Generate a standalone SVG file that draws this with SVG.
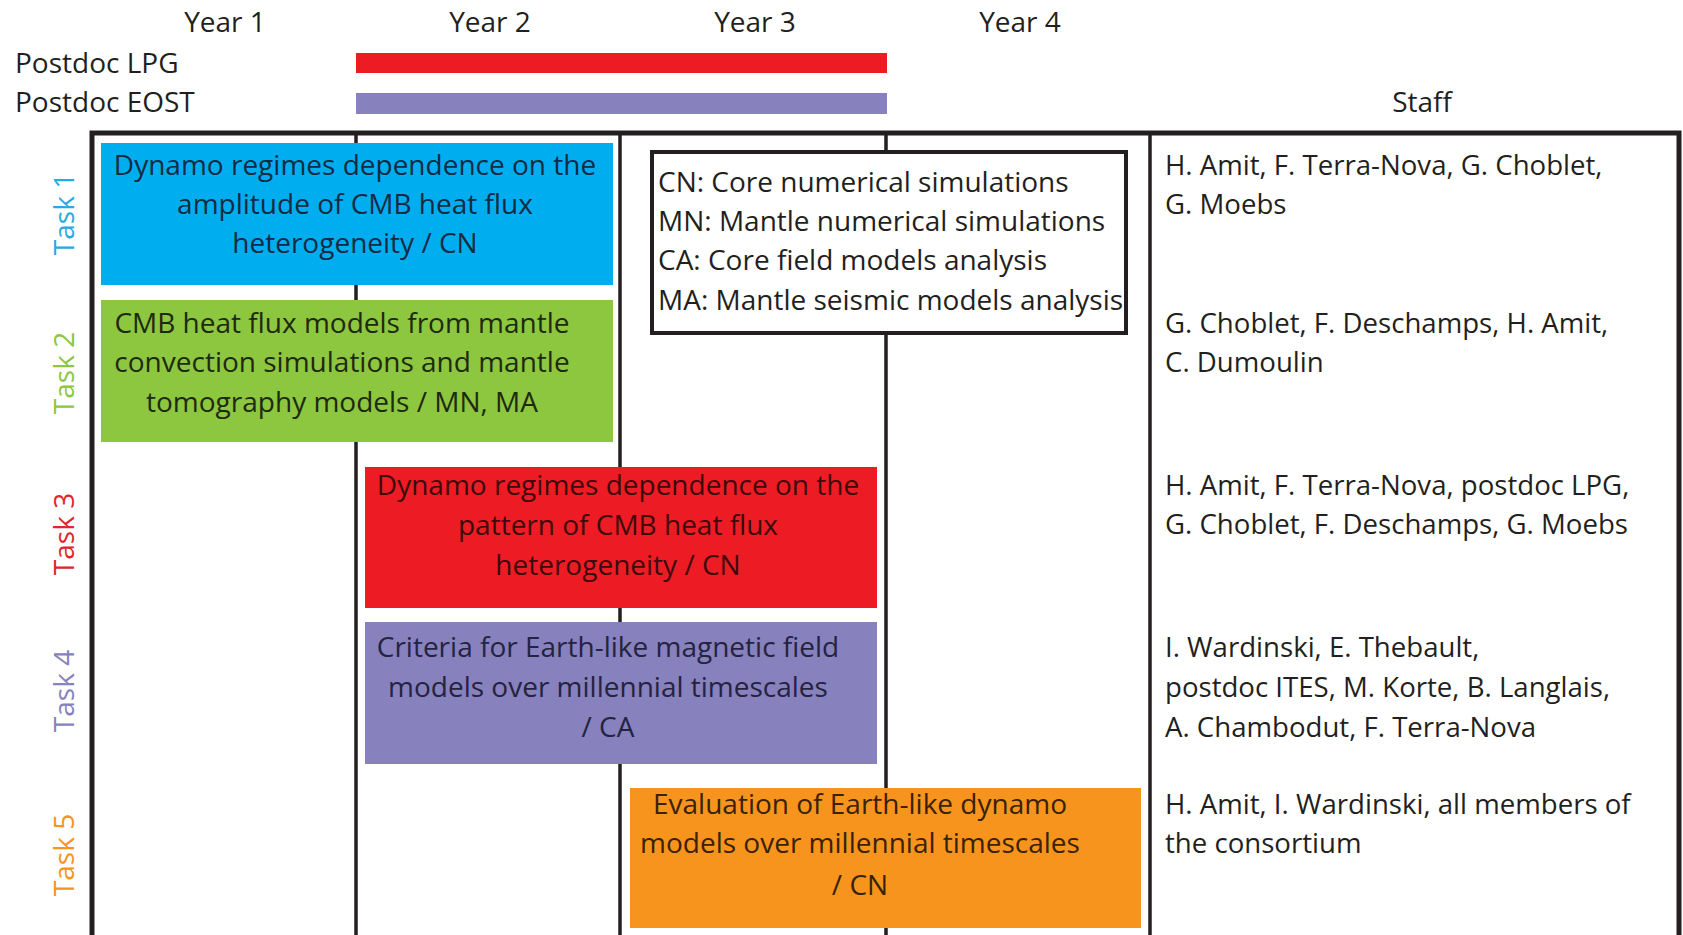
<svg xmlns="http://www.w3.org/2000/svg" width="1683" height="935" viewBox="0 0 1683 935">
<style>
text{font-family:"Open Sans","Noto Sans","Liberation Sans",sans-serif;font-size:28px;fill:#231f20}
.c{text-anchor:middle}
.task{font-family:"Open Sans","DejaVu Sans",sans-serif;font-size:28px;text-anchor:middle}
.st{font-size:27.6px}
.grid{stroke:#231f20;stroke-width:3.5;fill:none}
.frame{stroke:#231f20;stroke-width:5;fill:none}
</style>
<rect width="1683" height="935" fill="#ffffff"/>
<g id="header">
<text class="c" x="225" y="32">Year 1</text>
<text class="c" x="490" y="32">Year 2</text>
<text class="c" x="755" y="32">Year 3</text>
<text class="c" x="1020" y="32">Year 4</text>
<text x="15" y="73">Postdoc LPG</text>
<text x="15" y="112">Postdoc EOST</text>
<text class="c" x="1422" y="112">Staff</text>
</g>
<g id="postdoc-bars">
<rect x="356" y="53" width="531" height="20" fill="#ed1c24"/>
<rect x="356" y="93" width="531" height="21" fill="#8781bd"/>
</g>
<g id="grid">
<rect class="frame" x="92" y="133" width="1587" height="820"/>
<line class="grid" x1="356" y1="133" x2="356" y2="935"/>
<line class="grid" x1="620" y1="133" x2="620" y2="935"/>
<line class="grid" x1="886" y1="133" x2="886" y2="935"/>
<line class="grid" x1="1150" y1="133" x2="1150" y2="935"/>
</g>
<g id="task-labels">
<text class="task" style="fill:#27aae1" transform="translate(74,214) rotate(-90)">Task 1</text>
<text class="task" style="fill:#8dc63f" transform="translate(74,373) rotate(-90)">Task 2</text>
<text class="task" style="fill:#e0262c" transform="translate(74,534) rotate(-90)">Task 3</text>
<text class="task" style="fill:#8582bd" transform="translate(74,691) rotate(-90)">Task 4</text>
<text class="task" style="fill:#f7941d" transform="translate(74,855) rotate(-90)">Task 5</text>
</g>
<g id="task1">
<rect x="101" y="143" width="512" height="142" fill="#00aeef"/>
<text class="c" x="355" y="175" style="fill:#142b45">Dynamo regimes dependence on the</text>
<text class="c" x="355" y="214" style="fill:#142b45">amplitude of CMB heat flux</text>
<text class="c" x="355" y="253" style="fill:#142b45">heterogeneity / CN</text>
</g>
<g id="task2">
<rect x="101" y="300" width="512" height="142" fill="#8dc63f"/>
<text class="c" x="342" y="333" style="fill:#1e2a10">CMB heat flux models from mantle</text>
<text class="c" x="342" y="372" style="fill:#1e2a10">convection simulations and mantle</text>
<text class="c" x="342" y="412" style="fill:#1e2a10">tomography models / MN, MA</text>
</g>
<g id="legend">
<rect x="652" y="152" width="474" height="181" fill="#ffffff" stroke="#231f20" stroke-width="4"/>
<text x="658" y="192">CN: Core numerical simulations</text>
<text x="658" y="231">MN: Mantle numerical simulations</text>
<text x="658" y="270">CA: Core field models analysis</text>
<text x="658" y="310">MA: Mantle seismic models analysis</text>
</g>
<g id="task3">
<rect x="365" y="467" width="512" height="141" fill="#ed1c24"/>
<text class="c" x="618" y="495" style="fill:#3d0a0c">Dynamo regimes dependence on the</text>
<text class="c" x="618" y="535" style="fill:#3d0a0c">pattern of CMB heat flux</text>
<text class="c" x="618" y="575" style="fill:#3d0a0c">heterogeneity / CN</text>
</g>
<g id="task4">
<rect x="365" y="622" width="512" height="142" fill="#8781bd"/>
<text class="c" x="608" y="657" style="fill:#25233f">Criteria for Earth-like magnetic field</text>
<text class="c" x="608" y="697" style="fill:#25233f">models over millennial timescales</text>
<text class="c" x="608" y="737" style="fill:#25233f">/ CA</text>
</g>
<g id="task5">
<rect x="630" y="788" width="511" height="140" fill="#f7941d"/>
<text class="c" x="860" y="814" style="fill:#3a2206">Evaluation of Earth-like dynamo</text>
<text class="c" x="860" y="853" style="fill:#3a2206">models over millennial timescales</text>
<text class="c" x="860" y="895" style="fill:#3a2206">/ CN</text>
</g>
<g id="staff">
<text class="st" x="1165" y="175">H. Amit, F. Terra-Nova, G. Choblet,</text>
<text class="st" x="1165" y="214">G. Moebs</text>
<text class="st" x="1165" y="333">G. Choblet, F. Deschamps, H. Amit,</text>
<text class="st" x="1165" y="372">C. Dumoulin</text>
<text class="st" x="1165" y="495">H. Amit, F. Terra-Nova, postdoc LPG,</text>
<text class="st" x="1165" y="534">G. Choblet, F. Deschamps, G. Moebs</text>
<text class="st" x="1165" y="657">I. Wardinski, E. Thebault,</text>
<text class="st" x="1165" y="697">postdoc ITES, M. Korte, B. Langlais,</text>
<text class="st" x="1165" y="737">A. Chambodut, F. Terra-Nova</text>
<text class="st" x="1165" y="814">H. Amit, I. Wardinski, all members of</text>
<text class="st" x="1165" y="853">the consortium</text>
</g>
</svg>
